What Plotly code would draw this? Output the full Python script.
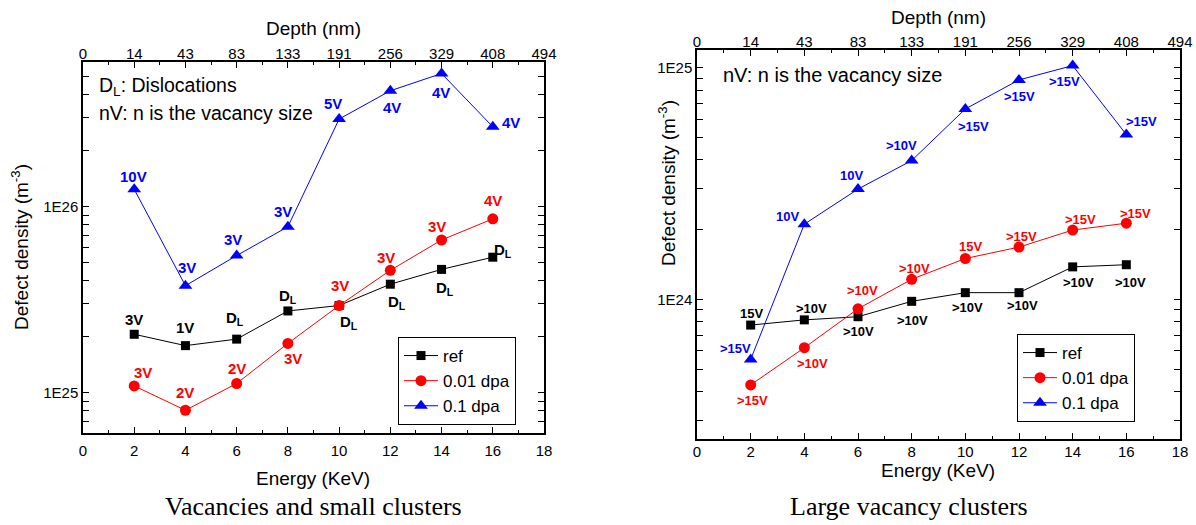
import numpy as np
import plotly.graph_objects as go

# ---------------- data ----------------
energy = [2, 4, 6, 8, 10, 12, 14, 16]
energy_ticks = [0, 2, 4, 6, 8, 10, 12, 14, 16, 18]
depth_labels = ["0", "14", "43", "83", "133", "191", "256", "329", "408", "494"]
series_names = ["ref", "0.01 dpa", "0.1 dpa"]

# Vacancies and small clusters (m^-3)
small_ref = [2.06e25, 1.79e25, 1.94e25, 2.75e25, 2.94e25, 3.83e25, 4.60e25, 5.35e25]
small_001 = [1.087e25, 8.04e24, 1.12e25, 1.84e25, 2.94e25, 4.55e25, 6.62e25, 8.60e25]
small_01 = [1.24e26, 3.76e25, 5.46e25, 7.80e25, 2.96e26, 4.20e26, 5.20e26, 2.69e26]

small_ref_lbl = ["3V", "1V", "D<sub>L</sub>", "D<sub>L</sub>", "D<sub>L</sub>", "D<sub>L</sub>", "D<sub>L</sub>", "D<sub>L</sub>"]
small_001_lbl = ["3V", "2V", "2V", "3V", "3V", "3V", "3V", "4V"]
small_01_lbl = ["10V", "3V", "3V", "3V", "5V", "4V", "4V", "4V"]

# Large vacancy clusters (m^-3)
large_ref = [7.74e23, 8.15e23, 8.41e23, 9.80e23, 1.068e24, 1.068e24, 1.38e24, 1.41e24]
large_001 = [4.27e23, 6.18e23, 9.10e23, 1.22e24, 1.50e24, 1.68e24, 1.99e24, 2.13e24]
large_01 = [5.50e23, 2.11e24, 2.99e24, 3.97e24, 6.63e24, 8.85e24, 1.02e25, 5.14e24]

large_ref_lbl = ["15V", ">10V", ">10V", ">10V", ">10V", ">10V", ">10V", ">10V"]
large_001_lbl = [">15V", ">10V", ">10V", ">10V", "15V", ">15V", ">15V", ">15V"]
large_01_lbl = [">15V", "10V", "10V", ">10V", ">15V", ">15V", ">15V", ">15V"]

# ---------------- styling / label offsets (pixels: dx right, dy up) ----------------
small_ref_off = [(0, 15), (0, 18), (-2, 21), (0, 14), (10, -17), (7, -18), (3, -19), (10, 7)]
small_001_off = [(9, 13), (0, 18), (0, 15), (5, -15), (1, 20), (-4, 13), (-5, 13), (0, 18)]
small_01_off = [(-1, 13), (2, 18), (-4, 16), (-5, 15), (-6, 16), (2, -17), (-1, -19), (18, 4)]

large_ref_off = [(1, 12), (7, 11), (0, -15), (1, -19), (2, -15), (3, -13), (6, -16), (4, -18)]
large_001_off = [(2, -16), (8, -16), (4, 18), (3, 11), (5, 12), (2, 11), (8, 11), (9, 10)]
large_01_off = [(-15, 11), (-17, 8), (-7, 14), (-10, 15), (8, -18), (0, -17), (-8, -16), (15, 13)]

colors = ["#000000", "#ff0000", "#0000ff"]
symbols = ["square", "circle", "triangle-up"]
msizes = [9, 11, 12]

W, H = 1196, 525
FONT = "Liberation Sans, Arial, sans-serif"


def px_x(px):
    return px / W


def px_y(py):
    return 1 - py / H


# panel geometry in pixels
L = dict(x0=83, x1=544, y0=62, y1=433)
R = dict(x0=697, x1=1180, y0=50, y1=439)

fig = go.Figure()

panels = [
    ("x", "y", "x3", "legend", [small_ref, small_001, small_01],
     [small_ref_lbl, small_001_lbl, small_01_lbl],
     [small_ref_off, small_001_off, small_01_off], 15),
    ("x2", "y2", "x4", "legend2", [large_ref, large_001, large_01],
     [large_ref_lbl, large_001_lbl, large_01_lbl],
     [large_ref_off, large_001_off, large_01_off], 13),
]

annotations = []
for xa, ya, xtop, lg, series, lbls, offs, lfs in panels:
    for i, vals in enumerate(series):
        fig.add_trace(go.Scatter(
            x=energy, y=vals, mode="lines+markers", name=series_names[i],
            xaxis=xa, yaxis=ya, legend=lg,
            line=dict(color=colors[i], width=1),
            marker=dict(symbol=symbols[i], size=msizes[i], color=colors[i]),
        ))
        for xv, yv, t, (dx, dy) in zip(energy, vals, lbls[i], offs[i]):
            annotations.append(dict(
                x=xv, y=np.log10(yv), xref=xa, yref=ya, text="<b>%s</b>" % t,
                showarrow=False, xshift=dx, yshift=dy,
                font=dict(family=FONT, size=lfs, color=colors[i]),
            ))
    # invisible trace so that the top (depth) axis is drawn
    fig.add_trace(go.Scatter(
        x=energy, y=series[0], mode="markers", xaxis=xtop, yaxis=ya,
        marker=dict(opacity=0), showlegend=False, hoverinfo="skip",
    ))


def minor_vals(lo, hi):
    out = []
    for d in range(lo, hi + 1):
        for m in range(2, 10):
            out.append(m * 10.0 ** d)
    return out


axis_common = dict(
    showline=True, linecolor="black", linewidth=1.5,
    ticks="inside", ticklen=6, tickwidth=1.2, tickcolor="black",
    showgrid=False, zeroline=False, automargin=False,
    tickfont=dict(family=FONT, size=15, color="black"),
)
xminor = dict(ticks="inside", ticklen=3, tickmode="array",
              tickvals=list(range(1, 18, 2)), tickcolor="black", tickwidth=1.2)

fig.update_layout(
    width=W, height=H, margin=dict(l=0, r=0, t=0, b=0),
    paper_bgcolor="white", plot_bgcolor="white",
    xaxis=dict(domain=[px_x(L["x0"]), px_x(L["x1"])], anchor="y", range=[0, 18],
               tickmode="array", tickvals=energy_ticks, mirror=True,
               ticklabelstandoff=3, minor=xminor, **axis_common),
    yaxis=dict(domain=[px_y(L["y1"]), px_y(L["y0"])], anchor="x", type="log",
               range=[24.783, 26.778], tickmode="array", tickvals=[1e25, 1e26],
               ticktext=["1E25", "1E26"], mirror="allticks",
               minor=dict(ticks="inside", ticklen=3, tickmode="array",
                          tickvals=minor_vals(24, 26), tickcolor="black", tickwidth=1.2),
               **axis_common),
    xaxis3=dict(overlaying="x", side="top", anchor="y", range=[0, 18],
                tickmode="array", tickvals=energy_ticks, ticktext=depth_labels,
                ticklabelstandoff=-5, minor=xminor, **axis_common),
    xaxis2=dict(domain=[px_x(R["x0"]), px_x(R["x1"])], anchor="y2", range=[0, 18],
                tickmode="array", tickvals=energy_ticks, mirror=True,
                ticklabelstandoff=-2, minor=xminor, **axis_common),
    yaxis2=dict(domain=[px_y(R["y1"]), px_y(R["y0"])], anchor="x2", type="log",
                range=[23.397, 25.076], tickmode="array", tickvals=[1e24, 1e25],
                ticktext=["1E24", "1E25"], mirror="allticks",
                minor=dict(ticks="inside", ticklen=3, tickmode="array",
                           tickvals=minor_vals(23, 25), tickcolor="black", tickwidth=1.2),
                **axis_common),
    xaxis4=dict(overlaying="x2", side="top", anchor="y2", range=[0, 18],
                tickmode="array", tickvals=energy_ticks, ticktext=depth_labels,
                ticklabelstandoff=-5, minor=xminor, **axis_common),
    legend=dict(x=px_x(398), y=px_y(337), xanchor="left", yanchor="top",
                bordercolor="black", borderwidth=1, bgcolor="white",
                font=dict(family=FONT, size=17, color="black"),
                tracegroupgap=0, itemwidth=34),
    legend2=dict(x=px_x(1017), y=px_y(334), xanchor="left", yanchor="top",
                 bordercolor="black", borderwidth=1, bgcolor="white",
                 font=dict(family=FONT, size=17, color="black"),
                 tracegroupgap=0, itemwidth=34),
    showlegend=True,
)

title_font = dict(family=FONT, size=19, color="black")
cap_font = dict(family="Liberation Serif, Times New Roman, serif", size=26, color="black")

extra = [
    # left panel in-plot notes
    dict(x=px_x(97), y=px_y(86), text="D<sub>L</sub>: Dislocations", xanchor="left",
         font=dict(family=FONT, size=19.5, color="black")),
    dict(x=px_x(97), y=px_y(113), text="nV: n is the vacancy size", xanchor="left",
         font=dict(family=FONT, size=19.5, color="black")),
    dict(x=px_x(721), y=px_y(75), text="nV: n is the vacancy size", xanchor="left",
         font=dict(family=FONT, size=20, color="black")),
    # axis titles left
    dict(x=px_x(313), y=px_y(29), text="Depth (nm)", font=title_font),
    dict(x=px_x(313), y=px_y(478), text="Energy (KeV)", font=title_font),
    dict(x=px_x(20), y=px_y(247), text="Defect density (m<sup>-3</sup>)", textangle=-90, font=title_font),
    # axis titles right
    dict(x=px_x(938), y=px_y(17), text="Depth (nm)", font=title_font),
    dict(x=px_x(938), y=px_y(470), text="Energy (KeV)", font=title_font),
    dict(x=px_x(667), y=px_y(183), text="Defect density (m<sup>-3</sup>)", textangle=-90, font=title_font),
    # captions
    dict(x=px_x(313), y=px_y(506), text="Vacancies and small clusters", font=cap_font),
    dict(x=px_x(909), y=px_y(506), text="Large vacancy clusters", font=cap_font),
]
for a in extra:
    a.update(xref="paper", yref="paper", showarrow=False, yanchor="middle")
    a.setdefault("xanchor", "center")
    annotations.append(a)

fig.update_layout(annotations=annotations)
fig.write_html("out.html", config={"displayModeBar": False},
               post_script="document.body.style.margin='0';document.body.style.overflow='hidden';")
